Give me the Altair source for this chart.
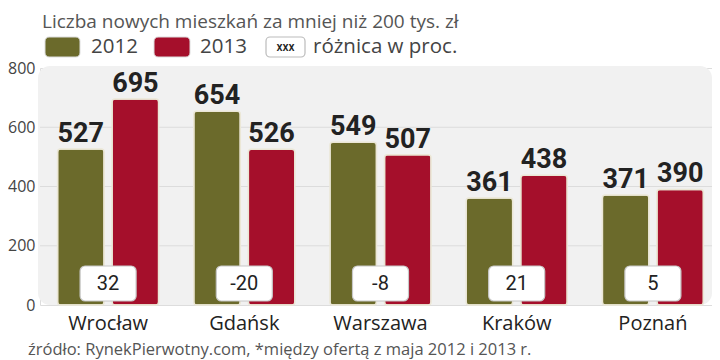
import altair as alt
import pandas as pd

cities = ["Wrocław", "Gdańsk", "Warszawa", "Kraków", "Poznań"]
v2012 = [527, 654, 549, 361, 371]
v2013 = [695, 526, 507, 438, 390]
diffs = [32, -20, -8, 21, 5]
years = ["2012", "2013"]
y_ticks = [0, 200, 400, 600, 800]
grid_vals = [200, 400, 600]

title_text = "Liczba nowych mieszkań za mniej niż 200 tys. zł"
legend_box_text = "xxx"
legend_box_label = "różnica w proc."
footer_text = "źródło: RynekPierwotny.com, *między ofertą z maja 2012 i 2013 r."

OLIVE = "#6b6a2b"
RED = "#a50f2b"
SANS = "'Open Sans', 'Noto Sans', sans-serif"
COND = "Roboto, 'Noto Sans', sans-serif"

rows = []
for c, a, b in zip(cities, v2012, v2013):
    rows.append({"city": c, "year": "2012", "value": a})
    rows.append({"city": c, "year": "2013", "value": b})
df = pd.DataFrame(rows)
ddf = pd.DataFrame({"city": cities, "diff": [str(d) for d in diffs]})
gdf = pd.DataFrame({"g": grid_vals})
one = pd.DataFrame({"k": [0]})

xscale = alt.Scale(domain=cities, range=[0, 681], paddingInner=0.258, paddingOuter=0.129)
yscale = alt.Scale(domain=[0, 800], nice=False)

x_enc = alt.X("city:N", scale=xscale, sort=None,
              axis=alt.Axis(title=None, ticks=False, domain=False, labelAngle=0,
                            labelFontSize=20, labelColor="#222", labelFont=SANS,
                            labelPadding=8))
y_enc = alt.Y("value:Q", scale=yscale,
              axis=alt.Axis(title=None, ticks=False, domain=False, grid=False,
                            values=y_ticks, labelFontSize=16, labelColor="#444",
                            labelFont=SANS, labelPadding=5))
xoff = alt.XOffset("year:N", scale=alt.Scale(domain=years, paddingInner=0.147, paddingOuter=0))
color = alt.Color("year:N", scale=alt.Scale(domain=years, range=[OLIVE, RED]), legend=None)

panel = alt.Chart(one).mark_rect(fill="#f1f1f1", cornerRadius=12).encode(
    x=alt.value(-2), x2=alt.value(672), y=alt.value(-2), y2=alt.value(237))

grid = alt.Chart(gdf).mark_rule(color="#dcdcdc", strokeWidth=1).encode(
    y=alt.Y("g:Q", scale=yscale), x=alt.value(0), x2=alt.value(672))

bars = alt.Chart(df).mark_bar(cornerRadius=3, stroke="#ebe7d6", strokeWidth=1.5).encode(
    x=x_enc, xOffset=xoff, y=y_enc, color=color)

labels = alt.Chart(df).mark_text(baseline="alphabetic", dy=-7, fontSize=27, fontWeight="bold",
                                 font=COND, color="#222").encode(
    x=alt.X("city:N", scale=xscale, sort=None), xOffset=xoff,
    y=alt.Y("value:Q", scale=yscale), text="value:Q")

boxes = alt.Chart(ddf).mark_bar(width=56, fill="white", stroke="#c8c8c8", strokeWidth=1.2,
                                cornerRadius=5).encode(
    x=alt.X("city:N", scale=xscale, sort=None), y=alt.value(198), y2=alt.value(233))

box_text = alt.Chart(ddf).mark_text(baseline="middle", fontSize=20, font=COND,
                                    color="#222").encode(
    x=alt.X("city:N", scale=xscale, sort=None), y=alt.value(216), text="diff:N")

title = alt.Chart(one).mark_text(align="left", baseline="alphabetic", fontSize=19, font=SANS,
                                 color="#555", text=title_text).encode(
    x=alt.value(2), y=alt.value(-40))

LY = -21
sw1 = alt.Chart(one).mark_rect(fill=OLIVE, cornerRadius=4, stroke="#ddd", strokeWidth=1).encode(
    x=alt.value(5), x2=alt.value(40), y=alt.value(LY - 10), y2=alt.value(LY + 10))
sw2 = alt.Chart(one).mark_rect(fill=RED, cornerRadius=4, stroke="#ddd", strokeWidth=1).encode(
    x=alt.value(114), x2=alt.value(150), y=alt.value(LY - 10), y2=alt.value(LY + 10))
sw3 = alt.Chart(one).mark_rect(fill="white", cornerRadius=4, stroke="#bbb", strokeWidth=1.2).encode(
    x=alt.value(226), x2=alt.value(265), y=alt.value(LY - 10), y2=alt.value(LY + 10))
lt1 = alt.Chart(one).mark_text(align="left", baseline="middle", fontSize=20.5, font=SANS,
                               color="#444", text=years[0]).encode(x=alt.value(51), y=alt.value(LY))
lt2 = alt.Chart(one).mark_text(align="left", baseline="middle", fontSize=20.5, font=SANS,
                               color="#444", text=years[1]).encode(x=alt.value(160), y=alt.value(LY))
lt3 = alt.Chart(one).mark_text(align="center", baseline="middle", fontSize=12, font=COND,
                               fontWeight=500, color="#222",
                               text=legend_box_text).encode(x=alt.value(245.5), y=alt.value(LY))
lt4 = alt.Chart(one).mark_text(align="left", baseline="middle", fontSize=20.5, font=SANS,
                               color="#444", text=legend_box_label).encode(x=alt.value(273), y=alt.value(LY))

footer = alt.Chart(one).mark_text(align="left", baseline="alphabetic", fontSize=16.5, font=SANS,
                                  color="#555", text=footer_text).encode(
    x=alt.value(-12), y=alt.value(287))

chart = alt.layer(panel, grid, bars, labels, boxes, box_text, title,
                  sw1, sw2, sw3, lt1, lt2, lt3, lt4, footer).properties(
    width=672, height=237,
    autosize=alt.AutoSizeParams(type="none"),
    padding={"left": 32, "top": 60, "right": 0, "bottom": 55},
).configure_view(stroke=None).configure(background="white")

chart.save("out.html", embed_options={"renderer": "svg", "actions": False})
